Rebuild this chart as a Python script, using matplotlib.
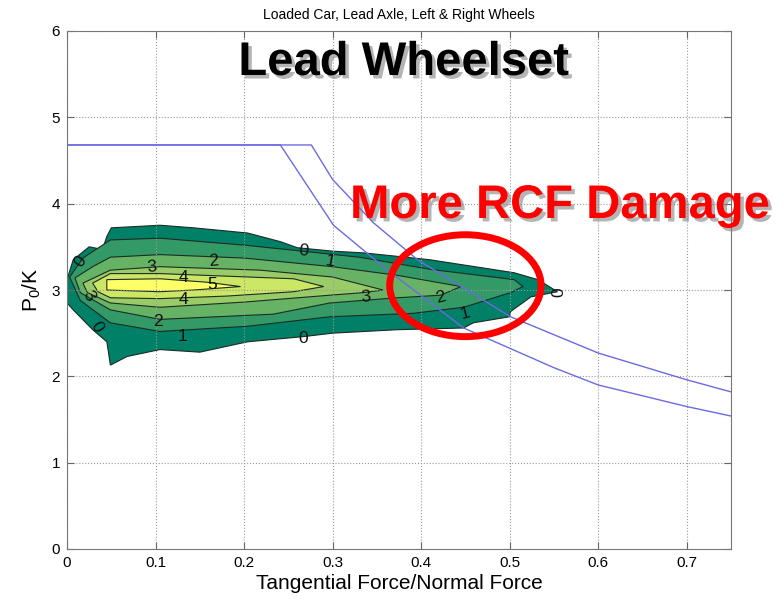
import matplotlib
matplotlib.use("Agg")
import matplotlib.pyplot as plt
import matplotlib.patheffects as pe
from matplotlib.patches import Ellipse

plt.rcParams['font.family'] = ['Liberation Sans', 'DejaVu Sans']
plt.rcParams['mathtext.fontset'] = 'custom'
plt.rcParams['mathtext.rm'] = 'Liberation Sans'
plt.rcParams['mathtext.it'] = 'Liberation Sans'

# contour outlines (x = T/N, y = P0/k), one closed outline per level
c0_x = [0.000, 0.000, 0.007, 0.025, 0.040, 0.045, 0.050, 0.105, 0.143, 0.204, 0.241, 0.260, 0.300,
        0.335, 0.373, 0.410, 0.448, 0.505, 0.532, 0.554, 0.524, 0.501, 0.500, 0.459, 0.448, 0.373,
        0.300, 0.267, 0.204, 0.150, 0.105, 0.068, 0.049, 0.045, 0.029, 0.007]
c0_y = [2.85, 3.12, 3.35, 3.50, 3.47, 3.62, 3.72, 3.75, 3.72, 3.66, 3.56, 3.49, 3.45,
        3.43, 3.39, 3.35, 3.29, 3.20, 3.12, 2.98, 2.92, 2.75, 2.69, 2.62, 2.56, 2.54,
        2.50, 2.46, 2.40, 2.28, 2.31, 2.23, 2.13, 2.40, 2.54, 2.77]

c1_x = [0.003, 0.018, 0.049, 0.105, 0.200, 0.275, 0.330, 0.410, 0.505, 0.515, 0.501, 0.448,
        0.391, 0.297, 0.204, 0.105, 0.049, 0.015]
c1_y = [3.15, 3.37, 3.58, 3.60, 3.52, 3.44, 3.38, 3.24, 3.12, 3.04, 2.97, 2.80,
        2.73, 2.69, 2.58, 2.52, 2.62, 2.88]

c2_x = [0.009, 0.029, 0.049, 0.105, 0.200, 0.300, 0.373, 0.445, 0.422, 0.373, 0.297, 0.233,
        0.105, 0.049, 0.015]
c2_y = [3.14, 3.27, 3.38, 3.41, 3.37, 3.27, 3.17, 3.04, 2.94, 2.91, 2.85, 2.72,
        2.66, 2.77, 2.97]

c3_x = [0.018, 0.049, 0.105, 0.218, 0.300, 0.357, 0.335, 0.297, 0.200, 0.105, 0.049, 0.023]
c3_y = [3.08, 3.23, 3.27, 3.23, 3.15, 3.00, 2.97, 2.94, 2.86, 2.80, 2.85, 2.97]

c4_x = [0.029, 0.049, 0.105, 0.181, 0.256, 0.290, 0.256, 0.181, 0.105, 0.049, 0.035]
c4_y = [3.08, 3.19, 3.19, 3.16, 3.13, 3.04, 2.98, 2.93, 2.90, 2.91, 2.98]

c5_x = [0.045, 0.105, 0.158, 0.196, 0.143, 0.105, 0.045]
c5_y = [3.12, 3.13, 3.09, 3.04, 3.00, 2.98, 3.00]

# contour labels: x, y, text, angle
lab_x = [0.015, 0.034, 0.267, 0.267, 0.556, 0.297, 0.131, 0.450, 0.165, 0.103, 0.422,
         0.096, 0.024, 0.337, 0.131, 0.131, 0.164]
lab_y = [3.33, 2.57, 3.45, 2.44, 2.97, 3.33, 2.46, 2.73, 3.34, 2.63, 2.91,
         3.26, 2.93, 2.92, 3.14, 2.89, 3.06]
lab_t = ['0', '0', '0', '0', '0', '1', '1', '1', '2', '2', '2',
         '3', '3', '3', '4', '4', '5']
lab_r = [55, -60, -5, 0, 90, -10, 0, 15, 5, 0, 15,
         5, -60, 5, 0, 0, 0]

# shakedown limit curves
sd1_x = [0.0, 0.276, 0.300, 0.346, 0.396, 0.501, 0.600, 0.700, 0.750]
sd1_y = [4.68, 4.68, 4.28, 3.78, 3.35, 2.69, 2.27, 1.96, 1.82]
sd2_x = [0.0, 0.241, 0.301, 0.362, 0.448, 0.550, 0.600, 0.700, 0.750]
sd2_y = [4.68, 4.68, 3.75, 3.23, 2.56, 2.10, 1.90, 1.65, 1.54]

fig = plt.figure(figsize=(7.84, 6), dpi=100)
ax = fig.add_axes([67/784, 51/600, 664/784, 518/600])

cmap = plt.get_cmap('summer')
outlines = [(c0_x, c0_y), (c1_x, c1_y), (c2_x, c2_y), (c3_x, c3_y), (c4_x, c4_y), (c5_x, c5_y)]
for k, (xs, ys) in enumerate(outlines):
    ax.fill(xs, ys, facecolor=cmap(k / 5), edgecolor='#1c2c22', lw=0.8, zorder=1 + k * 0.01)

for x, y, t, r in zip(lab_x, lab_y, lab_t, lab_r):
    ax.text(x, y, t, fontsize=12.5, rotation=r, ha='center', va='center', color='#111', zorder=3)

ax.plot(sd1_x, sd1_y, color='#6b6be0', lw=1.0, zorder=3)
ax.plot(sd2_x, sd2_y, color='#6b6be0', lw=1.0, zorder=3)

ax.add_patch(Ellipse((0.45, 3.05), 0.171, 1.18, fill=False, ec='#ff0000', lw=5, zorder=4))

ax.set_xlim(0, 0.75)
ax.set_ylim(0, 6)
ax.set_xticks([0, 0.1, 0.2, 0.3, 0.4, 0.5, 0.6, 0.7])
ax.set_xticklabels(['0', '0.1', '0.2', '0.3', '0.4', '0.5', '0.6', '0.7'])
ax.set_yticks([0, 1, 2, 3, 4, 5, 6])
ax.grid(True, ls=':', color='#9a9a9a', lw=0.8)
ax.tick_params(direction='in', top=True, right=True, length=5, color='#666',
               labelsize=11, pad=5)
for s in ax.spines.values():
    s.set_color('#777')

ax.set_title('Loaded Car, Lead Axle, Left & Right Wheels', fontsize=10, pad=9)
ax.set_xlabel('Tangential Force/Normal Force', fontsize=15, labelpad=3)
ax.set_ylabel('P$_\\mathrm{0}$/K', fontsize=15, labelpad=6)

shadow = [pe.SimplePatchShadow(offset=(2.5, -2.5), shadow_rgbFace='#777777', alpha=0.55), pe.Normal()]
fig.text(404 / 784, 1 - 75 / 600, 'Lead Wheelset', fontsize=34, fontweight='bold',
         ha='center', va='baseline', color='black', path_effects=shadow)
fig.text(560 / 784, 1 - 218 / 600, 'More RCF Damage', fontsize=34, fontweight='bold',
         ha='center', va='baseline', color='#ff0000', path_effects=shadow)

fig.savefig('out.png', dpi=100)
